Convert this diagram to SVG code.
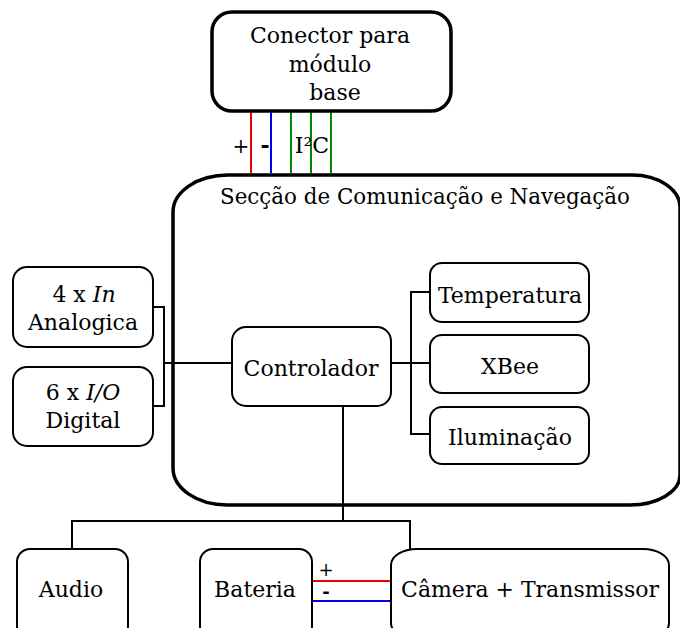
<svg xmlns="http://www.w3.org/2000/svg" width="680" height="628" viewBox="0 0 680 628">
<style>
.box{fill:#fff;stroke:#000;stroke-width:2}
.thick{fill:none;stroke:#000;stroke-width:3.5}
.ln{fill:none;stroke:#000;stroke-width:2}
</style>
<rect width="680" height="628" fill="#fff"/>
<g font-family="DejaVu Serif, serif" font-size="22" text-anchor="middle" fill="#000">
<g id="section">
<path class="thick" d="M 228 175 L 632 175 A 48 32 0 0 1 680 207 L 680 475 A 50 30 0 0 1 630 505 L 227 505 A 54 37 0 0 1 173 468 L 173 212 A 55 37 0 0 1 228 175 Z"/>
<text x="425" y="204" textLength="410" lengthAdjust="spacingAndGlyphs">Secção de Comunicação e Navegação</text>
</g>
<g id="connectors">
<line x1="251" y1="112" x2="251" y2="173" stroke="#e00" stroke-width="2"/>
<line x1="271" y1="112" x2="271" y2="173" stroke="#00e" stroke-width="2"/>
<line x1="291" y1="112" x2="291" y2="173" stroke="#080" stroke-width="2"/>
<line x1="311" y1="112" x2="311" y2="173" stroke="#080" stroke-width="2"/>
<line x1="331" y1="112" x2="331" y2="173" stroke="#080" stroke-width="2"/>
<text x="241" y="153" font-size="20">+</text>
<text x="265" y="153" font-size="22" font-weight="bold">-</text>
<text x="312" y="153">I²C</text>
<path class="ln" d="M 153 307 L 164 307 L 164 406 L 153 406 M 164 363 L 232 363"/>
<path class="ln" d="M 391 363 L 430 363 M 430 292 L 411 292 L 411 434 L 430 434"/>
<path class="ln" d="M 343 406 L 343 521 M 72 548 L 72 521 L 410 521 L 410 550"/>
<line x1="312" y1="581" x2="391" y2="581" stroke="#e00" stroke-width="2"/>
<line x1="312" y1="601" x2="391" y2="601" stroke="#00e" stroke-width="2"/>
<text x="326" y="576" font-size="18">+</text>
<text x="326" y="598" font-size="18" font-weight="bold">-</text>
</g>
<g id="conector">
<rect class="thick" x="212" y="12" width="239" height="99" rx="20" ry="20" fill="#fff"/>
<text x="330" y="43">Conector para</text>
<text x="330" y="72">módulo</text>
<text x="335" y="100">base</text>
</g>
<g id="analog">
<rect class="box" x="13" y="267" width="140" height="80" rx="14" ry="14"/>
<text x="84" y="302">4 x <tspan font-style="italic">In</tspan></text>
<text x="83" y="330">Analogica</text>
</g>
<g id="digital">
<rect class="box" x="13" y="367" width="140" height="79" rx="14" ry="14"/>
<text x="83" y="400">6 x <tspan font-style="italic">I/O</tspan></text>
<text x="83" y="428">Digital</text>
</g>
<g id="controlador">
<rect class="box" x="232" y="327" width="159" height="79" rx="14" ry="14"/>
<text x="311" y="376">Controlador</text>
</g>
<g id="temperatura">
<rect class="box" x="430" y="263" width="159" height="59" rx="12" ry="12"/>
<text x="510" y="303">Temperatura</text>
</g>
<g id="xbee">
<rect class="box" x="430" y="335" width="159" height="58" rx="12" ry="12"/>
<text x="510" y="374">XBee</text>
</g>
<g id="iluminacao">
<rect class="box" x="430" y="407" width="159" height="57" rx="12" ry="12"/>
<text x="510" y="445">Iluminação</text>
</g>
<g id="audio">
<rect class="box" x="17" y="549" width="111" height="90" rx="13" ry="13"/>
<text x="71" y="597">Audio</text>
</g>
<g id="bateria">
<rect class="box" x="200" y="549" width="112" height="90" rx="13" ry="13"/>
<text x="255" y="597">Bateria</text>
</g>
<g id="camera">
<rect class="box" x="391" y="549" width="278" height="90" rx="26" ry="16"/>
<text x="530" y="597">Câmera + Transmissor</text>
</g>
</g>
</svg>
